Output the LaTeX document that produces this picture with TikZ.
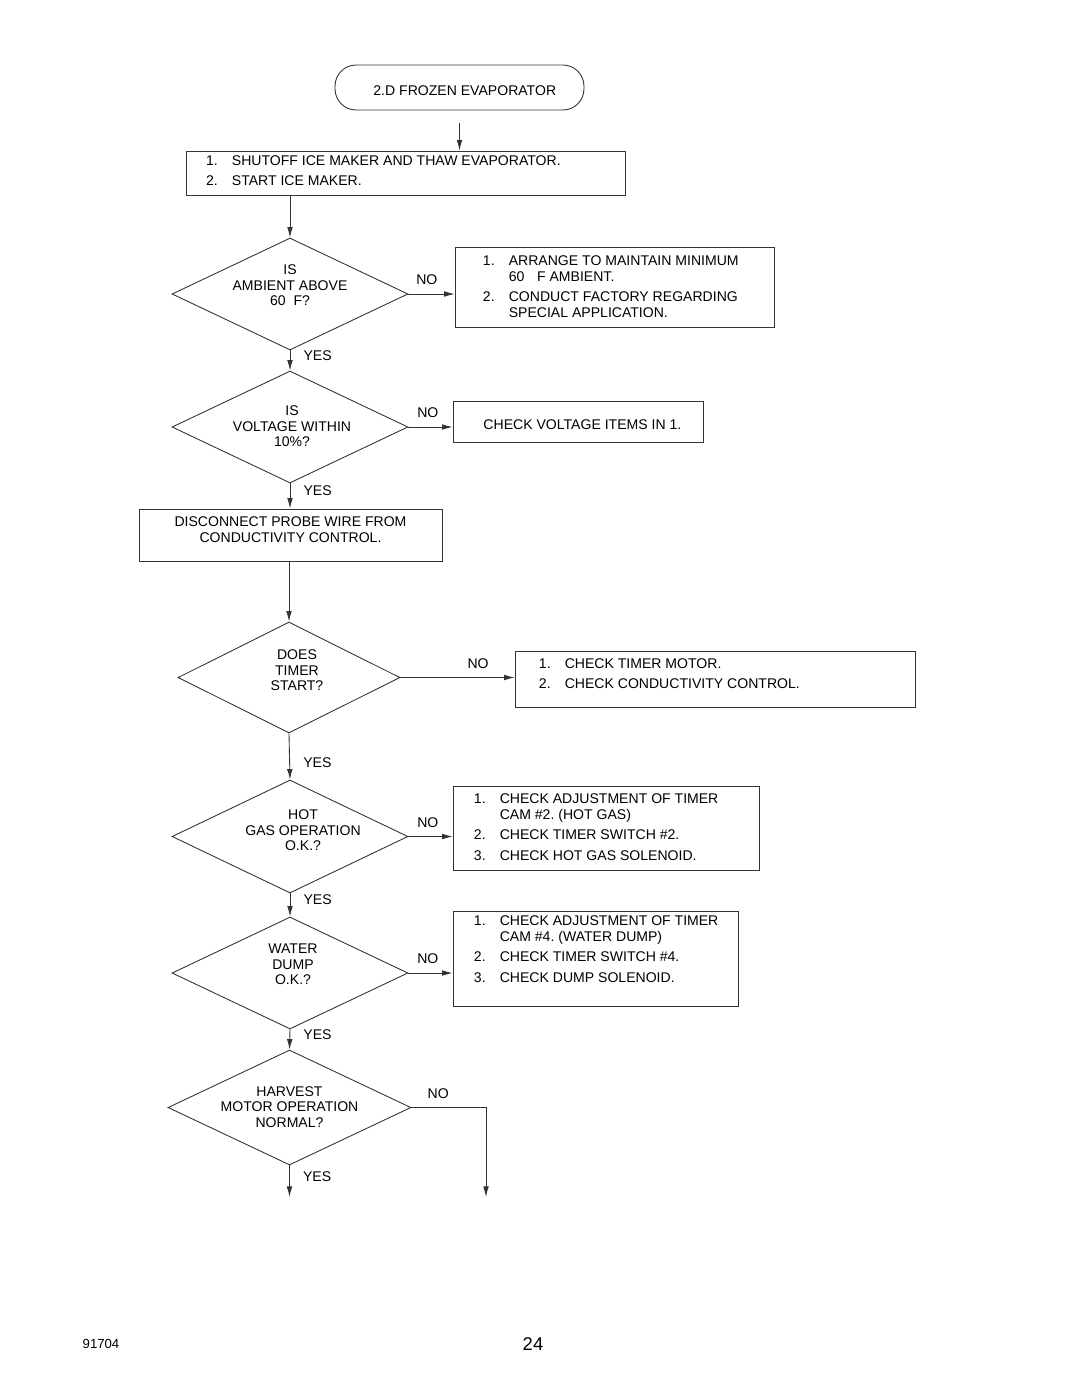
\documentclass[tikz,border=0pt]{standalone}
\usepackage{fontspec}
\setmainfont{Liberation Sans}
\usetikzlibrary{shapes.geometric,arrows.meta}
\frenchspacing

\newcommand{\num}[1]{\makebox[14.7pt][l]{#1}}
\newcommand{\cont}{\hspace*{14.7pt}}
\newcommand{\listbody}[5]{\begin{minipage}[c][#2][t]{#1}\raggedright\leftskip=#4\relax\vspace*{#3}#5\end{minipage}}

\begin{document}
\begin{tikzpicture}[x=0.02cm,y=-0.02cm,
	font=\fontsize{8}{9.07}\selectfont,
	line/.style={draw=black!80,line width=0.5pt},
	arr/.style={line,-{Latex[length=6pt,width=3.2pt]}},
	box/.style={line,rectangle,inner sep=0pt},
	question/.style={line,diamond,aspect=2,inner sep=0pt},
	qtext/.style={align=center,font=\fontsize{8}{8.8}\selectfont},
	no/.style={above=5pt,inner sep=0pt},
	yes/.style={right=7.5pt,inner sep=0pt}]
\path[fill=white] (0,0) rectangle (1080,1397);

\node[line,rounded corners=12pt,minimum width=4.98cm,minimum height=0.9cm,text height=8.6pt,text depth=0pt] (start) at (459.5,87.5) {\hspace{6pt}2.D FROZEN EVAPORATOR};

\node[box] (b1) at (405.5,173) {\listbody{8.78cm}{0.88cm}{2.7pt}{11.4pt}{%
\num{1.}SHUTOFF ICE MAKER AND THAW EVAPORATOR.\\[2.5pt]
\num{2.}START ICE MAKER.}};

\node[question,minimum width=4.72cm,minimum height=2.24cm,
	label={[qtext,shift={(0,-8.5)}]center:{IS\\AMBIENT ABOVE\\60\hspace{4.5pt}F?}}] (d1) at (290,294) {};
\node[box] (b2) at (614.5,287) {\listbody{6.38cm}{1.6cm}{5pt}{15.9pt}{%
\num{1.}ARRANGE TO MAINTAIN MINIMUM\\
\cont 60\hspace{5pt} F AMBIENT.\\[2.5pt]
\num{2.}CONDUCT FACTORY REGARDING\\
\cont SPECIAL APPLICATION.}};

\node[question,minimum width=4.72cm,minimum height=2.24cm,
	label={[qtext,shift={(2,-0.5)}]center:{IS\\VOLTAGE WITHIN\\10\%?}}] (d2) at (290,427) {};
\node[box,minimum width=5cm,minimum height=0.82cm,text height=9.2pt,text depth=0pt] (b3) at (578,421.5) {\hspace{5pt}CHECK VOLTAGE ITEMS IN 1.};

\node[box] (b4) at (290.5,535) {\listbody{6.06cm}{1.04cm}{4.4pt}{0pt}{%
\centering DISCONNECT PROBE WIRE FROM\\
CONDUCTIVITY CONTROL.}};

\node[question,minimum width=4.44cm,minimum height=2.22cm,
	label={[qtext,shift={(8,-7)}]center:{DOES\\TIMER\\START?}}] (d3) at (289,677.5) {};
\node[box] (b5) at (715,679) {\listbody{8cm}{1.12cm}{4.4pt}{13.6pt}{%
\num{1.}CHECK TIMER MOTOR.\\[2.5pt]
\num{2.}CHECK CONDUCTIVITY CONTROL.}};

\node[question,minimum width=4.72cm,minimum height=2.26cm,
	label={[qtext,shift={(13,-6)}]center:{HOT\\GAS OPERATION\\O.K.?}}] (d4) at (290,836.5) {};
\node[box] (b6) at (606,828) {\listbody{6.12cm}{1.68cm}{4.4pt}{11.9pt}{%
\num{1.}CHECK ADJUSTMENT OF TIMER\\
\cont CAM \#2. (HOT GAS)\\[2.5pt]
\num{2.}CHECK TIMER SWITCH \#2.\\[2.5pt]
\num{3.}CHECK HOT GAS SOLENOID.}};

\node[question,minimum width=4.72cm,minimum height=2.24cm,
	label={[qtext,shift={(3,-8.5)}]center:{WATER\\DUMP\\O.K.?}}] (d5) at (290,973) {};
\node[box] (b7) at (595.5,958.5) {\listbody{5.7cm}{1.9cm}{2.7pt}{11.9pt}{%
\num{1.}CHECK ADJUSTMENT OF TIMER\\
\cont CAM \#4. (WATER DUMP)\\[2.5pt]
\num{2.}CHECK TIMER SWITCH \#4.\\[2.5pt]
\num{3.}CHECK DUMP SOLENOID.}};

\node[question,minimum width=4.86cm,minimum height=2.3cm,
	label={[qtext,shift={(0,-0.5)}]center:{HARVEST\\MOTOR OPERATION\\NORMAL?}}] (d6) at (289.5,1107.5) {};
\coordinate (yesend) at (289.5,1197);
\coordinate (noend) at (486,1197);

\draw[arr] ([yshift=-0.26cm]start.south) -- (start.south |- b1.north);
\draw[arr] (d1.north |- b1.south) -- (d1.north);
\draw[arr] (d1.east) -- node[no,pos=.4] {NO} (d1.east -| b2.west);
\draw[arr] (d1.south) -- node[yes,pos=.24] {YES} (d2.north);
\draw[arr] (d2.east) -- node[no,pos=.44] {NO} (d2.east -| b3.west);
\draw[arr] (d2.south) -- node[yes,pos=.3] {YES} (d2.south |- b4.north);
\draw[arr] (d3.north |- b4.south) -- (d3.north);
\draw[arr] (d3.east) -- node[no,pos=.68] {NO} (d3.east -| b5.west);
\draw[arr] (d3.south) -- node[yes,pos=.63] {YES} (d4.north);
\draw[arr] (d4.east) -- node[no,pos=.44] {NO} (d4.east -| b6.west);
\draw[arr] (d4.south) -- node[yes,pos=.25] {YES} (d5.north);
\draw[arr] (d5.east) -- node[no,pos=.44] {NO} (d5.east -| b7.west);
\draw[arr] (d5.south) -- node[yes,pos=.28] {YES} (d6.north);
\draw[arr] (d6.east) -- node[no,pos=.36] {NO} (d6.east -| noend) -- (noend);
\draw[arr] (d6.south) -- node[yes,pos=.34] {YES} (yesend);

\node[font=\fontsize{7.5}{8}\selectfont] (code) at (101,1344) {91704};
\node[font=\fontsize{10.5}{12}\selectfont] (page) at (533,1344) {24};
\end{tikzpicture}
\end{document}
